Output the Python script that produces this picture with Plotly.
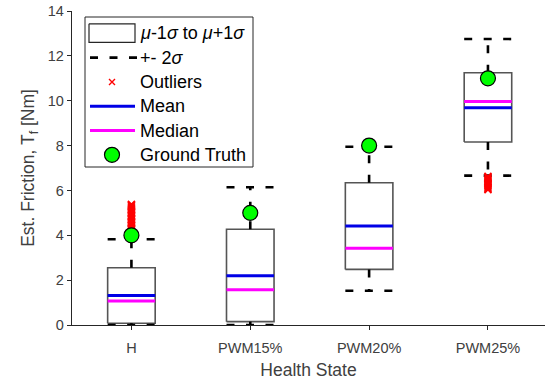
import plotly.graph_objects as go

categories = ["H", "PWM15%", "PWM20%", "PWM25%"]
box_low = [0.08, 0.15, 2.48, 8.16]      # mu - 1 sigma
box_high = [2.55, 4.27, 6.34, 11.25]    # mu + 1 sigma
lower_2s = [0.0, 0.0, 1.53, 6.66]
upper_2s = [3.82, 6.14, 7.95, 12.75]
means = [1.32, 2.20, 4.41, 9.69]
medians = [1.07, 1.57, 3.42, 9.97]
ground_truth = [4, 5, 8, 11]
outliers_H = [3.86, 3.93, 3.99, 4.06, 4.12, 4.19, 4.25, 4.31, 4.38, 4.44, 4.51, 4.57,
              4.63, 4.70, 4.76, 4.83, 4.89, 4.95, 5.02, 5.08, 5.15, 5.21, 5.27, 5.33, 5.38]
outliers_P25 = [6.63, 6.57, 6.51, 6.45, 6.39, 6.33, 6.27, 6.21, 6.15, 6.09, 6.04]
legend_labels = ["<i>μ</i>-1<i>σ</i> to <i>μ</i>+1<i>σ</i>", "+- 2<i>σ</i>", "Outliers",
                 "Mean", "Median", "Ground Truth"]

HW = 0.2  # half box width (style)
BOX_LINE = "#555555"
DASH = "8px,11.5px"
MEAN_C, MED_C, GT_C = "#0000e6", "#ff00ff", "#00ff00"
xs = [i + 1 for i in range(len(categories))]

# boxes
bx, by = [], []
for x, lo, hi in zip(xs, box_low, box_high):
    bx += [x - HW, x + HW, x + HW, x - HW, x - HW, None]
    by += [lo, lo, hi, hi, lo, None]

# +-2 sigma whiskers (horizontal caps + vertical connectors)
wx, wy = [], []
for x, lo, hi, l2, u2 in zip(xs, box_low, box_high, lower_2s, upper_2s):
    wx += [x - HW, x + HW, None, x, x, None, x - HW, x + HW, None, x, x, None]
    wy += [u2, u2, None, hi, u2, None, l2, l2, None, lo, l2, None]

def hlines(vals):
    lx, ly = [], []
    for x, v in zip(xs, vals):
        lx += [x - HW, x + HW, None]
        ly += [v, v, None]
    return lx, ly

mx, my = hlines(means)
dx, dy = hlines(medians)

ox = [xs[0]] * len(outliers_H) + [xs[3]] * len(outliers_P25)
oy = outliers_H + outliers_P25

fig = go.Figure()
fig.add_trace(go.Scatter(x=bx, y=by, mode="lines", fill="toself", fillcolor="white",
                         line=dict(color=BOX_LINE, width=1.6), name=legend_labels[0]))
fig.add_trace(go.Scatter(x=wx, y=wy, mode="lines",
                         line=dict(color="black", width=2.6, dash=DASH), name=legend_labels[1]))
fig.add_trace(go.Scatter(x=mx, y=my, mode="lines", line=dict(color=MEAN_C, width=3),
                         name=legend_labels[3]))
fig.add_trace(go.Scatter(x=dx, y=dy, mode="lines", line=dict(color=MED_C, width=3),
                         name=legend_labels[4]))
fig.add_trace(go.Scatter(x=ox, y=oy, mode="markers",
                         marker=dict(symbol="x-thin", size=7, line=dict(color="red", width=1.8)),
                         name=legend_labels[2]))
fig.add_trace(go.Scatter(x=xs, y=ground_truth, mode="markers",
                         marker=dict(symbol="circle", size=15, color=GT_C,
                                     line=dict(color="black", width=1.2)),
                         name=legend_labels[5]))

# ---- legend drawn on a pixel-space overlay axis (x2/y2) ----
PL, PR, PT, PB = 72, 545, 11, 325          # plot area in pixels
LG_L, LG_R, LG_T, LG_B = 85, 253, 17, 167  # legend frame
ROW0, ROWH = 33.3, 24.3
IC_L, IC_R, IC_C, TXT_X = 89, 135, 112, 138
rows = [ROW0 + k * ROWH for k in range(len(legend_labels))]

def overlay(**kw):
    fig.add_trace(go.Scatter(xaxis="x2", yaxis="y2", showlegend=False, hoverinfo="skip", **kw))

# frame and box-patch icon
overlay(x=[LG_L, LG_R, LG_R, LG_L, LG_L], y=[LG_T, LG_T, LG_B, LG_B, LG_T], mode="lines",
        fill="toself", fillcolor="white", line=dict(color="#262626", width=1))
overlay(x=[IC_L, IC_R, IC_R, IC_L, IC_L],
        y=[rows[0] - 9.5, rows[0] - 9.5, rows[0] + 9, rows[0] + 9, rows[0] - 9.5],
        mode="lines", fill="toself", fillcolor="white", line=dict(color="#262626", width=1.2))
overlay(x=[IC_L + 1, IC_R + 2], y=[rows[1], rows[1]], mode="lines",
        line=dict(color="black", width=2.6, dash=DASH))
overlay(x=[IC_L + 1, IC_R], y=[rows[3], rows[3]], mode="lines",
        line=dict(color=MEAN_C, width=3))
overlay(x=[IC_L + 1, IC_R], y=[rows[4], rows[4]], mode="lines",
        line=dict(color=MED_C, width=3))
overlay(x=[IC_C], y=[rows[2]], mode="markers",
        marker=dict(symbol="x-thin", size=6, line=dict(color="red", width=1.4)))
overlay(x=[IC_C], y=[rows[5]], mode="markers",
        marker=dict(symbol="circle", size=15, color=GT_C, line=dict(color="black", width=1.2)))

annotations = [
    dict(x=TXT_X, y=r, xref="x2", yref="y2", text=t, showarrow=False,
         xanchor="left", yanchor="middle",
         font=dict(size=18, color="black", family="Arial, Liberation Sans, sans-serif"))
    for r, t in zip(rows, legend_labels)
]

axis_font = dict(family="Arial, Liberation Sans, sans-serif", size=14.5, color="#404040")
fig.update_layout(
    width=545, height=383,
    margin=dict(l=PL, r=545 - PR, t=PT, b=383 - PB),
    paper_bgcolor="white", plot_bgcolor="white",
    font=dict(family="Arial, Liberation Sans, sans-serif", color="#262626"),
    showlegend=False,
    annotations=annotations,
    xaxis=dict(range=[0.5, 4.48], tickvals=xs, ticktext=categories,
               showline=True, linecolor="#262626", linewidth=1.3,
               ticks="outside", ticklen=4, tickcolor="#262626", ticklabelstandoff=5,
               showgrid=False, zeroline=False, tickfont=axis_font,
               title=dict(text="Health State", font=dict(size=17.5, color="#404040"), standoff=9)),
    yaxis=dict(range=[0, 14], tickvals=list(range(0, 15, 2)),
               showline=True, linecolor="#262626", linewidth=1.3,
               ticks="outside", ticklen=4, tickcolor="#262626",
               showgrid=False, zeroline=False, tickfont=axis_font,
               title=dict(text="Est. Friction, T<sub>f</sub> [Nm]",
                          font=dict(size=17.5, color="#404040"), standoff=8)),
    xaxis2=dict(overlaying="x", range=[PL, PR], visible=False, fixedrange=True),
    yaxis2=dict(overlaying="y", range=[PB, PT], visible=False, fixedrange=True),
)
fig.write_html("out.html")
